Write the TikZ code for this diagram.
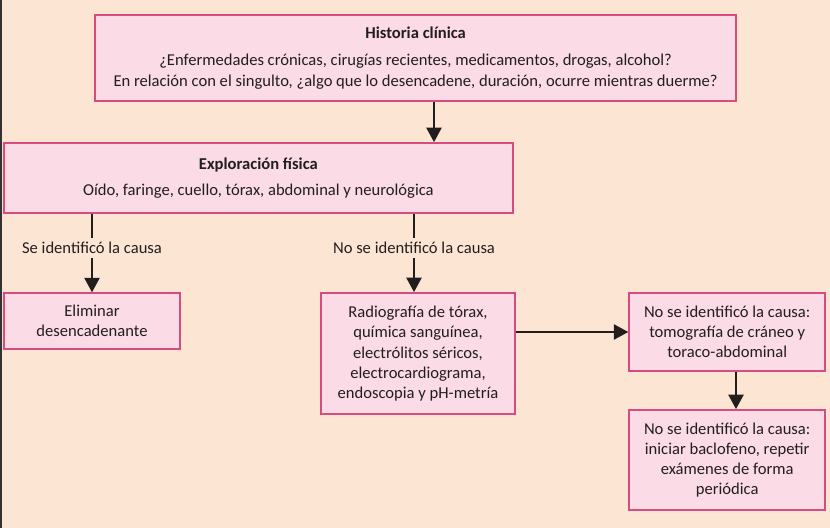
\documentclass[tikz,border=0pt]{standalone}
\usepackage{fontspec}
\setmainfont{Carlito}
\usetikzlibrary{arrows.meta,positioning}
\definecolor{fcPaper}{RGB}{253,229,212}
\definecolor{fcFill}{RGB}{250,219,230}
\definecolor{fcBorder}{RGB}{214,76,128}
\definecolor{fcInk}{RGB}{35,30,30}

\begin{document}
\begin{tikzpicture}[font=\fontsize{11.8}{14.3}\selectfont,box/.style={draw=fcBorder,line width=1.3pt,fill=fcFill,align=center,inner sep=2pt,text=fcInk},flow/.style={-{Triangle[width=0.38cm,length=0.36cm]},line width=1.2pt,draw=fcInk},link/.style={line width=1.2pt,draw=fcInk},cause/.style={text=fcInk,inner sep=3pt}]
    % Paper
    \fill[fcPaper] (0,0) rectangle (20.75,-13.2);
    \fill[black!80] (0,0) rectangle (0.05,-13.2);
    \useasboundingbox (0,0) rectangle (20.75,-13.2);
    % Nodes
    \node[box,minimum width=16.03cm,minimum height=2.15cm] at (10.39,-1.45) (hist) {\textbf{Historia clínica}\\[5pt]¿Enfermedades crónicas, cirugías recientes, medicamentos, drogas, alcohol?\\En relación con el singulto, ¿algo que lo desencadene, duración, ocurre mientras duerme?};
    \node[box,minimum width=12.73cm,minimum height=1.75cm] at (6.46,-4.45) (expl) {\textbf{Exploración física}\\[4pt]Oído, faringe, cuello, tórax, abdominal y neurológica};
    \node[cause] at (2.3,-6.2) (seCause) {Se identificó la causa};
    \node[cause] at (10.35,-6.2) (noCause) {No se identificó la causa};
    \node[box,minimum width=4.4cm,minimum height=1.4cm] at (2.3,-8.03) (elim) {Eliminar\\desencadenante};
    \node[box,minimum width=4.85cm,minimum height=3.03cm] at (10.45,-8.84) (radio) {Radiografía de tórax,\\química sanguínea,\\electrólitos séricos,\\electrocardiograma,\\endoscopia y pH-metría};
    \node[box,minimum width=4.9cm,minimum height=1.95cm] at (18.18,-8.3) (tomo) {No se identificó la causa:\\tomografía de cráneo y\\toraco-abdominal};
    \node[box,minimum width=4.9cm,minimum height=2.5cm] at (18.18,-11.5) (bacl) {No se identificó la causa:\\iniciar baclofeno, repetir\\exámenes de forma\\periódica};
    % Arrows
    \draw[flow] ([xshift=0.46cm]hist.south) -- ([xshift=0.46cm]hist.south |- expl.north);
    \draw[link] (expl.south -| seCause) -- (seCause.north);
    \draw[flow] (seCause.south) -- (seCause.south |- elim.north);
    \draw[link] (expl.south -| noCause) -- (noCause.north);
    \draw[flow] (noCause.south) -- (noCause.south |- radio.north);
    \draw[flow] (radio.east |- tomo.west) -- (tomo.west);
    \draw[flow] ([xshift=0.22cm]tomo.south) -- ([xshift=0.22cm]bacl.north);
\end{tikzpicture}
\end{document}
